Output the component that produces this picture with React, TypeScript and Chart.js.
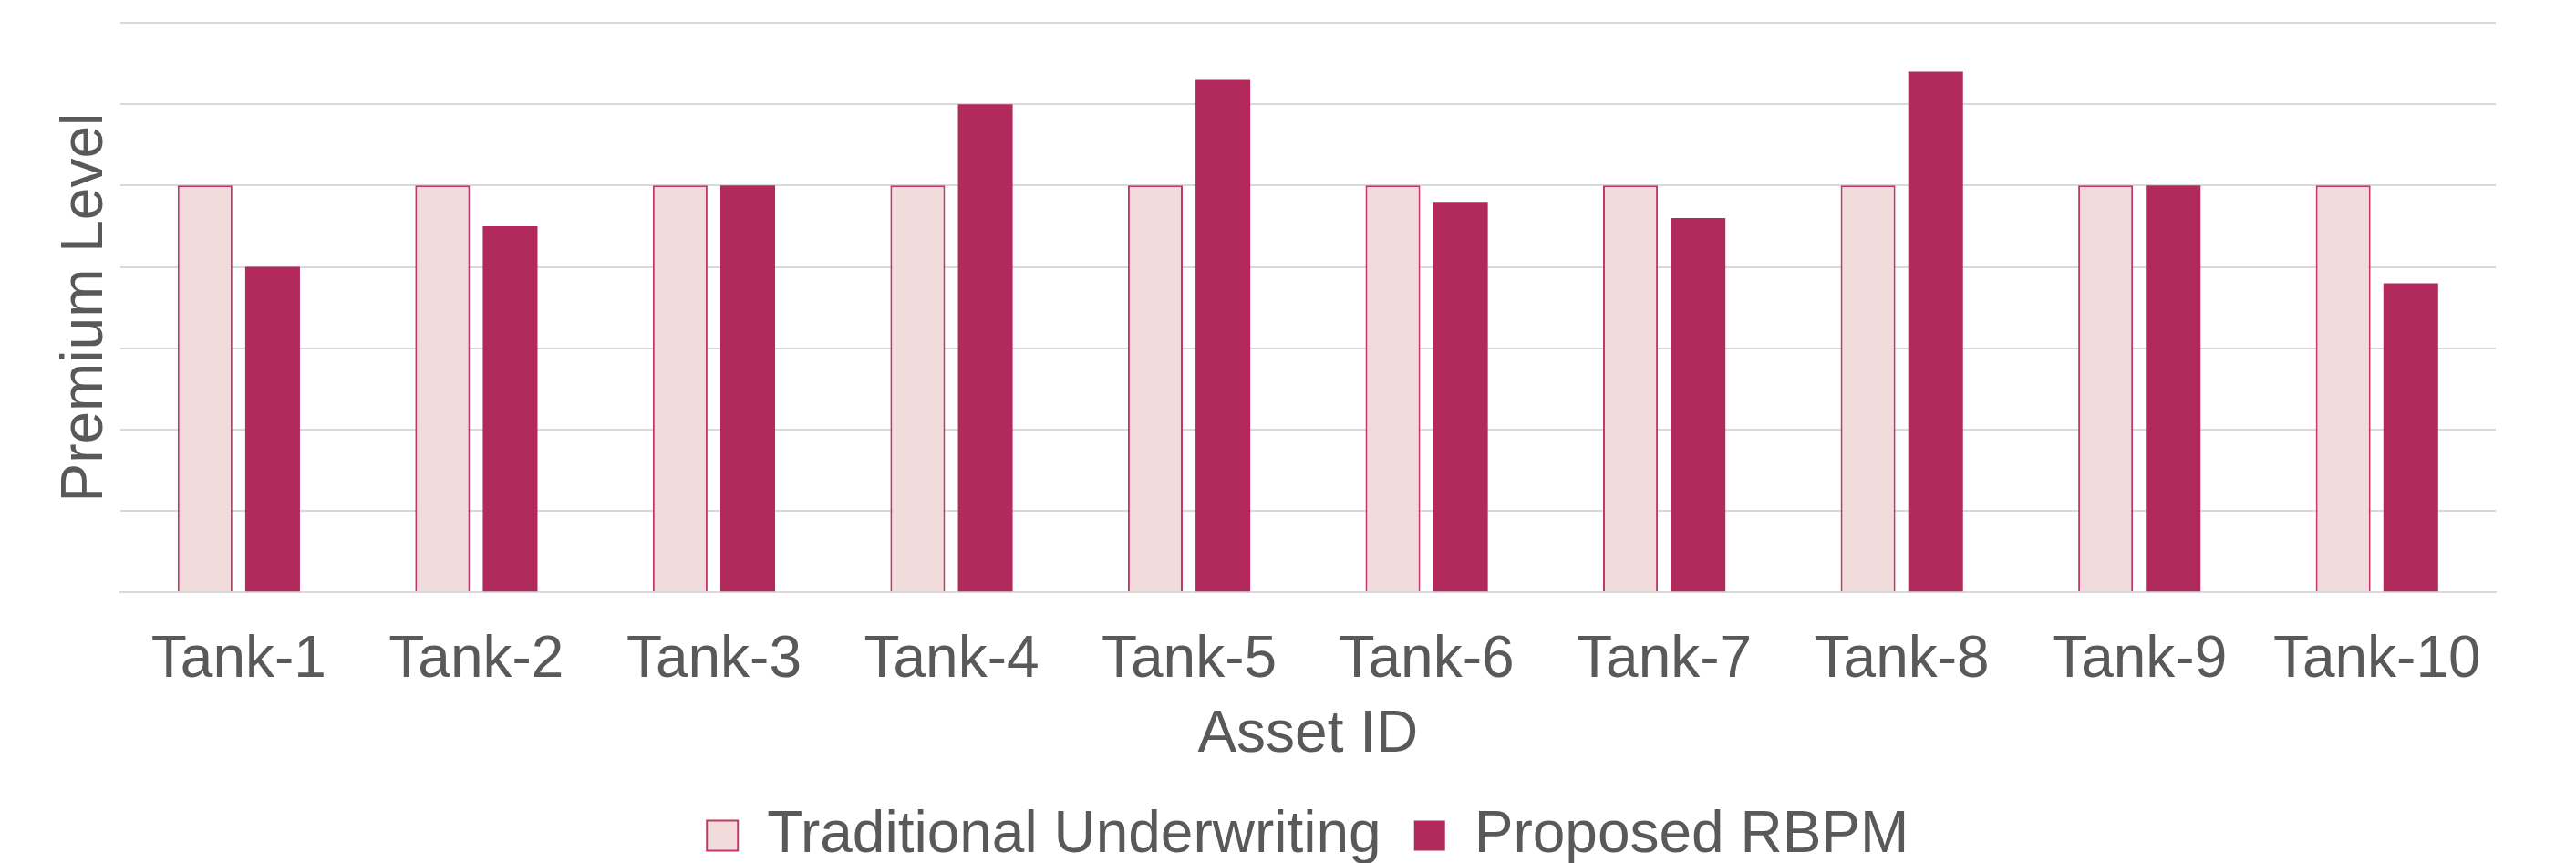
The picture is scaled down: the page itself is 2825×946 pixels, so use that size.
import React, { useEffect, useRef } from "react";
import { Chart, registerables } from "chart.js";

Chart.register(...registerables);

const categories = ["Tank-1", "Tank-2", "Tank-3", "Tank-4", "Tank-5", "Tank-6", "Tank-7", "Tank-8", "Tank-9", "Tank-10"];
const traditional = [100, 100, 100, 100, 100, 100, 100, 100, 100, 100];
const proposed = [80, 90, 100, 120, 126, 96, 92, 128, 100, 76];
const seriesNames = ["Traditional Underwriting", "Proposed RBPM"];
const yMin = 0;
const yMax = 140;
const yStep = 20;

const TEXT = "#595959";
const GRID = "#d9d9d9";
const FONT = "'Liberation Sans', Arial, sans-serif";

export default function App() {
  const ref = useRef<HTMLCanvasElement | null>(null);

  useEffect(() => {
    if (!ref.current) return;
    const chart = new Chart(ref.current, {
      type: "bar",
      data: {
        labels: categories,
        datasets: [
          {
            label: seriesNames[0],
            data: traditional,
            backgroundColor: "#f2dcdb",
            borderColor: "#c0386a",
            borderWidth: 2,
            categoryPercentage: 0.569,
            barPercentage: 0.81,
          },
          {
            label: seriesNames[1],
            data: proposed,
            backgroundColor: "#b2295c",
            borderWidth: 0,
            categoryPercentage: 0.569,
            barPercentage: 0.81,
          },
        ],
      },
      options: {
        responsive: false,
        animation: false,
        layout: { padding: { top: 25, left: 56, right: 88, bottom: 0 } },
        plugins: {
          tooltip: { enabled: false },
          legend: {
            position: "bottom",
            fullSize: false,
            labels: {
              boxWidth: 34,
              boxHeight: 33,
              padding: 36,
              color: TEXT,
              font: { family: FONT, size: 64 },
            },
          },
        },
        scales: {
          x: {
            grid: { display: false, drawTicks: false },
            border: { display: true, color: GRID, width: 2 },
            ticks: { color: TEXT, font: { family: FONT, size: 64 }, padding: 37, maxRotation: 0, autoSkip: false },
            title: {
              display: true,
              text: "Asset ID",
              color: TEXT,
              font: { family: FONT, size: 64 },
              padding: { top: 0, bottom: 3.5 },
            },
            afterFit: (s: any) => {
              s.height = 198.7;
            },
          },
          y: {
            min: yMin,
            max: yMax,
            ticks: { display: false, stepSize: yStep },
            grid: { color: GRID, lineWidth: 2, drawTicks: false },
            border: { display: false },
            title: {
              display: true,
              text: "Premium Level",
              color: TEXT,
              font: { family: FONT, size: 64 },
              padding: { top: 0, bottom: 0 },
            },
            afterFit: (s: any) => {
              s.width = 75.6;
            },
          },
        },
      },
    });
    return () => chart.destroy();
  }, []);

  return (
    <div style={{ position: "fixed", left: 0, top: 0, width: 2825, height: 958, background: "#fff" }}>
      <canvas ref={ref} width={2825} height={958} style={{ display: "block" }} />
    </div>
  );
}
